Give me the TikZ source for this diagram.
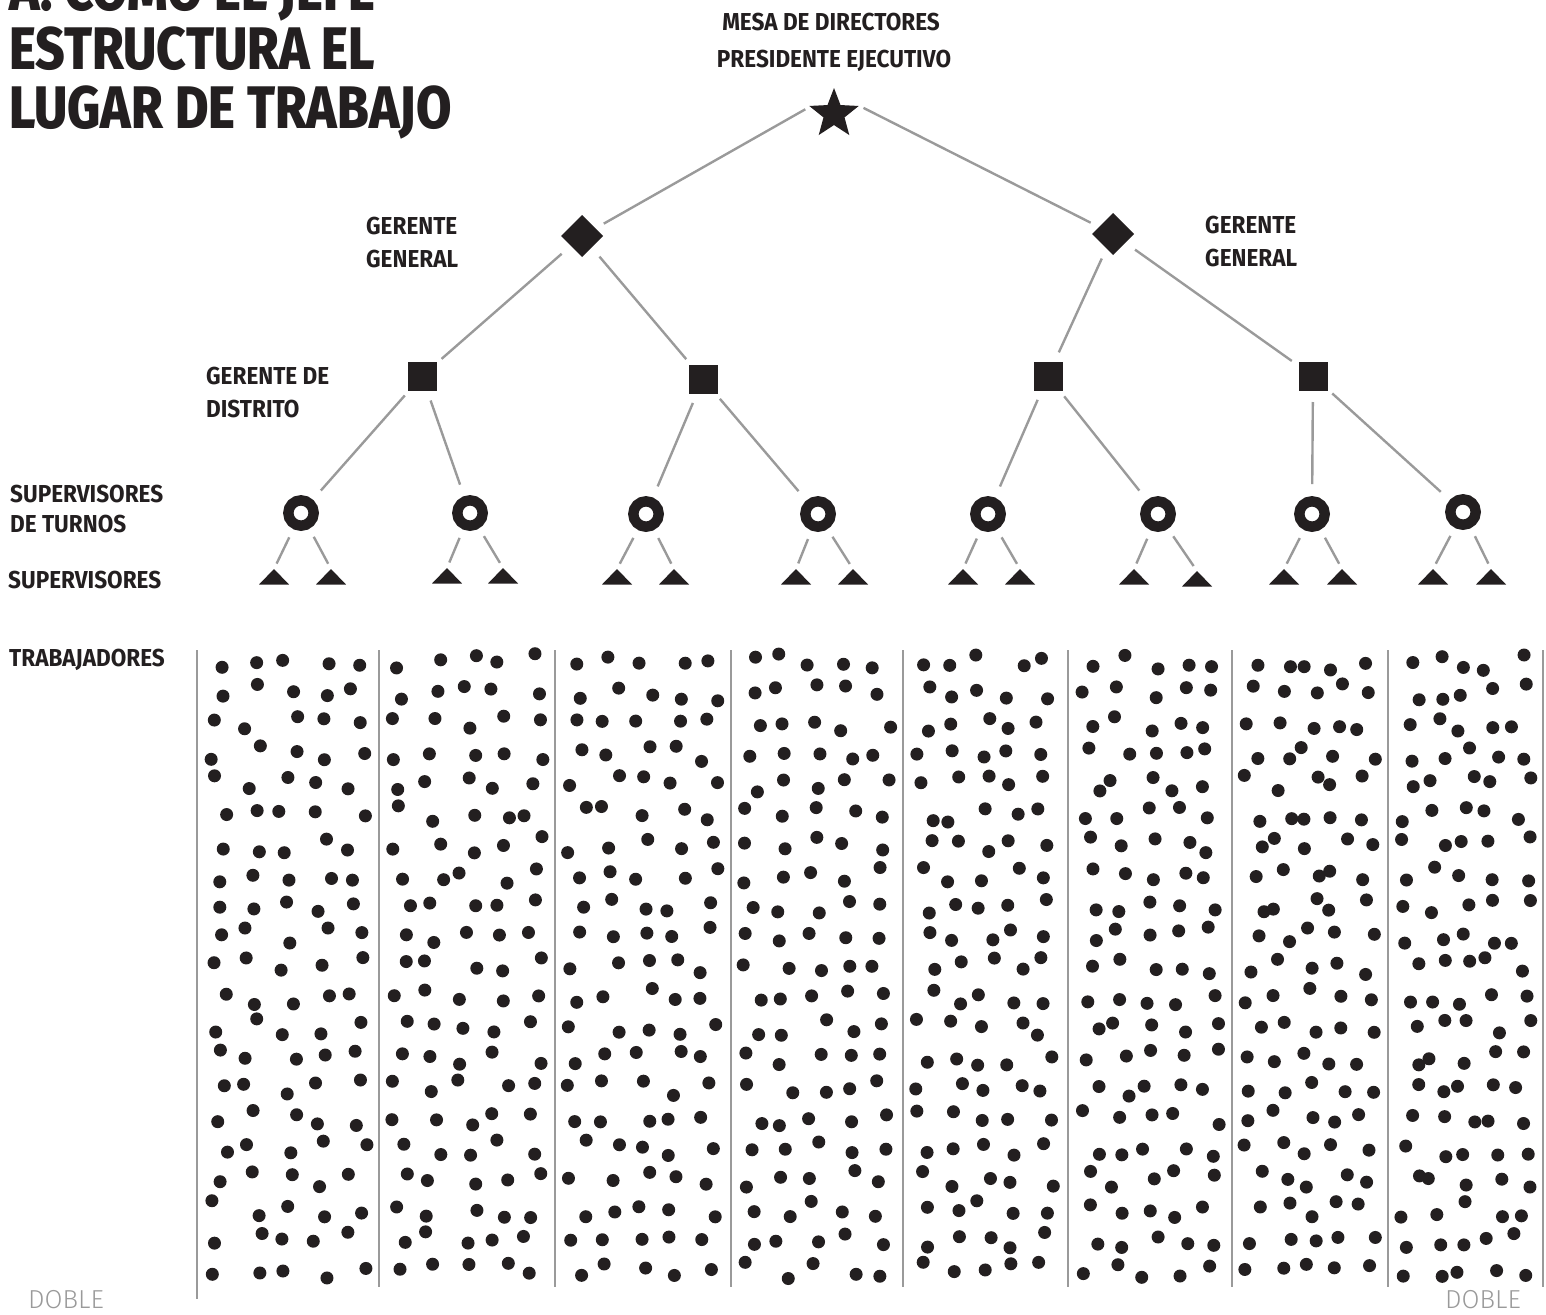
\documentclass[tikz,border=0pt]{standalone}
\usepackage{fontspec}
\setmainfont{Fira Sans}
\newfontfamily\condfont{Fira Sans}[FakeStretch=0.92]
\newfontfamily\titlecond{Fira Sans ExtraBold}[FakeStretch=0.855]
\newfontfamily\lightfont{Fira Sans Light}
\usetikzlibrary{shapes.geometric}
\definecolor{ink}{HTML}{231F20}
\definecolor{rulegray}{HTML}{9A9A9A}
\newcommand\labfont{\condfont\bfseries\fontsize{24.5}{30}\selectfont}
\newcommand\ttlfont{\titlecond\fontsize{60}{58}\selectfont}
\newcommand\dobfont{\lightfont\fontsize{26}{30}\selectfont}
\tikzset{
  conn/.style={draw=rulegray, line width=2.4pt},
  sepline/.style={draw=rulegray, line width=2.6pt},
  blk/.style={fill=ink, draw=none, inner sep=0pt, outer sep=0pt},
  gdiamond/.style={blk, diamond, minimum size=42pt},
  dsquare/.style={blk, rectangle, minimum size=29pt},
  ring/.style={circle, draw=ink, line width=10.4pt, minimum size=25.4pt, inner sep=0pt},
  lab/.style={font=\labfont, text=ink, inner sep=0pt, anchor=base west},
  ttl/.style={font=\ttlfont, text=ink, inner sep=0pt, anchor=base west},
  dob/.style={font=\dobfont, text=rulegray, inner sep=0pt, anchor=base west},
}
\begin{document}
\begin{tikzpicture}[x=1pt,y=-1pt]
\useasboundingbox (0,0) rectangle (1546,1314);

% title
\node[ttl] (ti1) at (9,11) {A. COMO EL JEFE};
\node[ttl] (ti2) at (9,70) {ESTRUCTURA EL};
\node[ttl] (ti3) at (9,128) {LUGAR DE TRABAJO};

% labels
\node[lab, anchor=base] (lmesa) at (831,31) {MESA DE DIRECTORES};
\node[lab, anchor=base] (lpres) at (834,67) {PRESIDENTE EJECUTIVO};
\node[lab] (lgg1a) at (366,234) {GERENTE};
\node[lab] (lgg1b) at (366,267) {GENERAL};
\node[lab] (lgg2a) at (1205,233) {GERENTE};
\node[lab] (lgg2b) at (1205,266) {GENERAL};
\node[lab] (lgda) at (206,384) {GERENTE DE};
\node[lab] (lgdb) at (206,417) {DISTRITO};
\node[lab] (lsta) at (10,502) {SUPERVISORES};
\node[lab] (lstb) at (10,532) {DE TURNOS};
\node[lab] (lsup) at (8,588) {SUPERVISORES};
\node[lab] (ltra) at (9,666) {TRABAJADORES};
\node[dob] (dob1) at (28,1308) {DOBLE};
\node[dob] (dob2) at (1445,1308) {DOBLE};

% hierarchy nodes
\node[blk, star, star points=5, star point ratio=2.35, minimum size=52pt] (star) at (834,114) {};
\coordinate (hub) at (834,93);
\node[gdiamond] (gg1) at (582,236) {};
\node[gdiamond] (gg2) at (1113,234) {};
\node[dsquare] (sq1) at (422,376) {};
\node[dsquare] (sq2) at (703,379) {};
\node[dsquare] (sq3) at (1048,376) {};
\node[dsquare] (sq4) at (1313,376) {};
\node[ring] (c1) at (301,513) {};
\node[ring] (c2) at (470,513) {};
\node[ring] (c3) at (646,514) {};
\node[ring] (c4) at (818,514) {};
\node[ring] (c5) at (988,514) {};
\node[ring] (c6) at (1158,514) {};
\node[ring] (c7) at (1312,514) {};
\node[ring] (c8) at (1463,512) {};

% triangles (apex coordinates)
\foreach \n/\x/\y in {t1a/274/569, t1b/331/569, t2a/447/568, t2b/503/568,
  t3a/617/569, t3b/674/569, t4a/796/569, t4b/853/569,
  t5a/963/569, t5b/1020/569, t6a/1134/569, t6b/1197/571,
  t7a/1284/569, t7b/1342/569, t8a/1433/569, t8b/1491/569}{
  \coordinate (\n) at (\x,\y);
  \fill[ink] (\n) -- ++(15,15.5) -- ++(-30,0) -- cycle;
}

% connectors (measured from node centres)
\draw[conn, shorten <=33pt, shorten >=25pt] (hub) -- (gg1.center);
\draw[conn, shorten <=33pt, shorten >=25pt] (hub) -- (gg2.center);
\foreach \a/\b in {gg1/sq1, gg1/sq2, gg2/sq3, gg2/sq4}{
  \draw[conn, shorten <=27pt, shorten >=26pt] (\a.center) -- (\b.center);
}
\foreach \a/\b in {sq1/c1, sq1/c2, sq2/c3, sq2/c4, sq3/c5, sq3/c6, sq4/c7, sq4/c8}{
  \draw[conn, shorten <=26pt, shorten >=30pt] (\a.center) -- (\b.center);
}
\foreach \a/\b in {c1/t1a, c1/t1b, c2/t2a, c2/t2b, c3/t3a, c3/t3b, c4/t4a, c4/t4b,
  c5/t5a, c5/t5b, c6/t6a, c6/t6b, c7/t7a, c7/t7b, c8/t8a, c8/t8b}{
  \draw[conn, shorten <=27pt, shorten >=6pt] (\a.center) -- (\b);
}

% column separators
\draw[sepline] (197,650) -- (197,1299);
\foreach \x in {379,555,731,903,1068,1232,1388,1543}{
  \draw[sepline] (\x,650) -- (\x,1287);
}

% workers (dots)
\pgfmathsetseed{4242}
\foreach \xl/\xr in {197/379, 379/555, 555/731, 731/903, 903/1068, 1068/1232, 1232/1388, 1388/1543}{
  \foreach \r in {0,...,20}{
    \foreach \k in {0,...,4}{
      \pgfmathsetmacro\px{\xl+22+\k*(\xr-\xl-44)/4+10*rand}
      \pgfmathsetmacro\py{662+\r*30.4+8.5*rand}
      \fill[ink] (\px,\py) circle (6.5pt);
    }
  }
}
\end{tikzpicture}
\end{document}
